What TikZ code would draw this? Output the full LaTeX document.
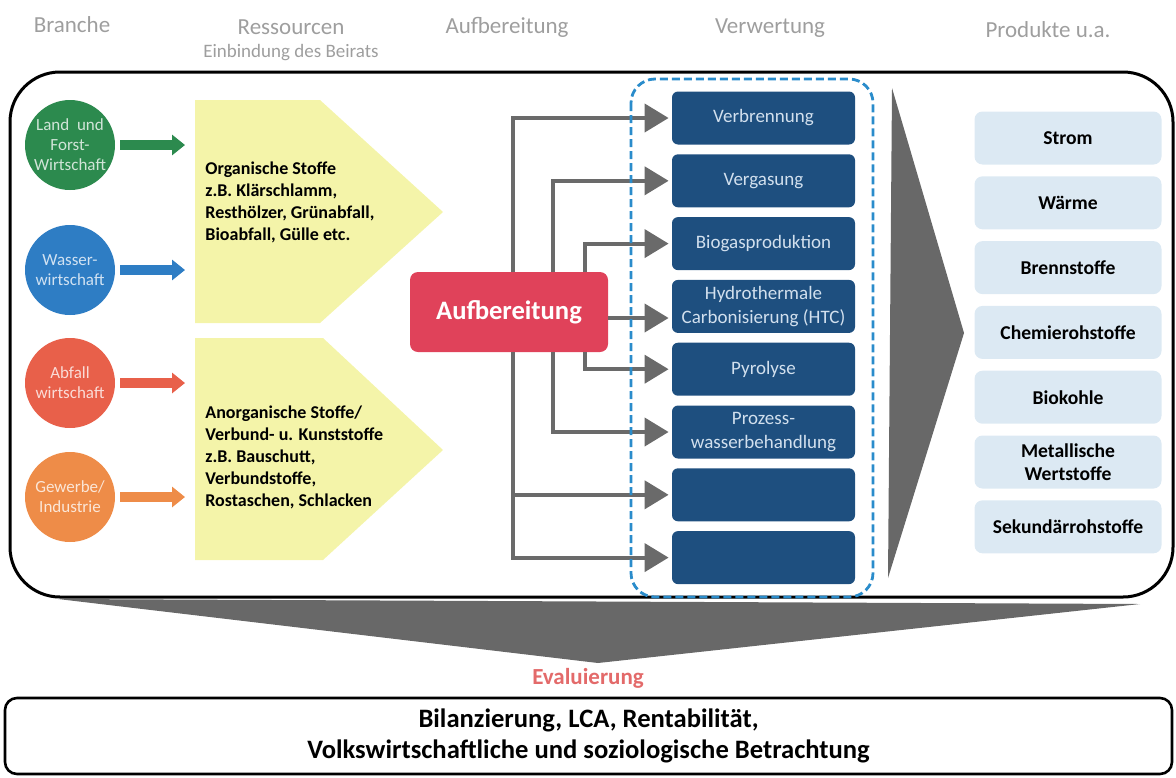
\documentclass[tikz,border=0pt]{standalone}
\usepackage{fontspec}
\setmainfont{Carlito}
\usetikzlibrary{arrows.meta,positioning}

\definecolor{kopfgrau}{HTML}{9E9E9E}
\definecolor{gruen}{HTML}{2C8A4E}
\definecolor{blau}{HTML}{2E7DC4}
\definecolor{rot}{HTML}{E8604A}
\definecolor{orange}{HTML}{EE8C48}
\definecolor{stoffgelb}{HTML}{F4F4A9}
\definecolor{aufrot}{HTML}{E0425A}
\definecolor{navy}{HTML}{1E4F7F}
\definecolor{navytext}{HTML}{D2E0EE}
\definecolor{hellblau}{HTML}{DCE9F3}
\definecolor{flussgrau}{HTML}{6A6A6A}
\definecolor{keilgrau}{HTML}{686868}
\definecolor{verwblau}{HTML}{2A8CCB}
\definecolor{evalrot}{HTML}{E36A6A}

\tikzset{
  kopf/.style={text=kopfgrau, font=\fontsize{11.5}{13}\selectfont},
  rahmen/.style={draw, line width=1.5pt, rounded corners=25pt},
  branche/.style={circle, fill=#1, minimum size=45pt, inner sep=0pt, align=center,
    text=white!78!#1, font=\fontsize{8.5}{10}\selectfont},
  zulauf/.style={draw=#1, line width=5pt, -{Triangle[length=6.5pt,width=10pt]}},
  stoffe/.style={fill=stoffgelb},
  stofftext/.style={anchor=west, align=left, inner sep=0pt, font=\bfseries\fontsize{9}{11}\selectfont},
  aufbox/.style={fill=aufrot, rounded corners=4pt, minimum width=99pt, minimum height=40pt,
    text=white, font=\bfseries\fontsize{13.3}{15}\selectfont},
  verfahren/.style={fill=navy, rounded corners=3pt, minimum width=91.5pt, minimum height=26.5pt,
    inner sep=1pt, align=center, text=navytext, font=\fontsize{9.5}{12}\selectfont},
  verwrahmen/.style={draw=verwblau, line width=1.4pt, dash pattern=on 4pt off 2pt, rounded corners=12pt},
  fluss/.style={draw=flussgrau, line width=2pt, -{Triangle[length=12pt,width=14pt]}, shorten >=1.5pt},
  keil/.style={fill=keilgrau},
  produkt/.style={fill=hellblau, rounded corners=4pt, minimum width=93.5pt, minimum height=26.5pt,
    inner sep=1pt, align=center, font=\bfseries\fontsize{9.8}{11.5}\selectfont},
  evaltext/.style={text=evalrot, font=\bfseries\fontsize{11.5}{13}\selectfont},
  bilanzbox/.style={draw, line width=1.3pt, rounded corners=6pt, minimum width=583.5pt,
    minimum height=38pt, align=center, font=\bfseries\fontsize{13.3}{15.5}\selectfont}
}

\begin{document}
\begin{tikzpicture}[x=0.5pt,y=-0.5pt]
  \useasboundingbox (0,0) rectangle (1176,777);

  \node (hbranche) [kopf] at (72,25)   {Branche};
  \node (hress)    [kopf] at (291,27)  {Ressourcen};
  \node (hbeirat)  [kopf, font=\fontsize{9.5}{11}\selectfont] at (291,53) {Einbindung des Beirats};
  \node (haufb)    [kopf] at (507,27)  {Aufbereitung};
  \node (hverw)    [kopf] at (770,28)  {Verwertung};
  \node (hprod)    [kopf] at (1048,30) {Produkte u.a.};

  \draw [rahmen] (10,72) rectangle (1173,597);

  \fill [stoffe] (195,100) -- (320,100) -- (443,212) -- (320,323) -- (195,323) -- cycle;
  \fill [stoffe] (195,338) -- (323,338) -- (443,450) -- (323,560) -- (195,560) -- cycle;
  \coordinate (orgrand)   at (185,212);
  \coordinate (anorgrand) at (185,450);

  \node (org)   [stofftext] at (205,202) {Organische Stoffe\\z.B. Klärschlamm,\\Resthölzer, Grünabfall,\\Bioabfall, Gülle etc.};
  \node (anorg) [stofftext] at (205,457) {Anorganische Stoffe/\\Verbund- u. Kunststoffe\\z.B. Bauschutt,\\Verbundstoffe,\\Rostaschen, Schlacken};

  \node (lufw)    [branche=gruen]  at (70,145) {Land\ \ und\\Forst-\\Wirtschaft};
  \node (wasser)  [branche=blau]   at (70,270) {Wasser-\\wirtschaft};
  \node (abfall)  [branche=rot]    at (70,383) {Abfall\\wirtschaft};
  \node (gewerbe) [branche=orange] at (70,497) {Gewerbe/\\Industrie};

  \draw [zulauf=gruen]  ([xshift=2.5pt]lufw.east)    -- (lufw -| orgrand);
  \draw [zulauf=blau]   ([xshift=2.5pt]wasser.east)  -- (wasser -| orgrand);
  \draw [zulauf=rot]    ([xshift=2.5pt]abfall.east)  -- (abfall -| anorgrand);
  \draw [zulauf=orange] ([xshift=2.5pt]gewerbe.east) -- (gewerbe -| anorgrand);

  \node (verbr)  [verfahren] at (763.5,118) {Verbrennung};
  \node (verg)   [verfahren, below=4.5pt of verbr]  {Vergasung};
  \node (biogas) [verfahren, below=4.5pt of verg]   {Biogasproduktion};
  \node (htc)    [verfahren, below=4.5pt of biogas] {Hydrothermale\\Carbonisierung (HTC)};
  \node (pyro)   [verfahren, below=4.5pt of htc]    {Pyrolyse};
  \node (proz)   [verfahren, below=4.5pt of pyro]   {Prozess-\\wasserbehandlung};
  \node (leer1)  [verfahren, below=4.5pt of proz]   {};
  \node (leer2)  [verfahren, below=4.5pt of leer1]  {};

  \node (aufb) [aufbox] at (509,312) {Aufbereitung};

  \draw [fluss] ([xshift=2pt]aufb.north)  |- (verbr);
  \draw [fluss] ([xshift=22pt]aufb.north) |- (verg);
  \draw [fluss] ([xshift=38pt]aufb.north) |- (biogas);
  \draw [fluss] ([yshift=-3pt]aufb.east)  -- ([yshift=-3pt]aufb.east -| htc.west);
  \draw [fluss] ([xshift=38pt]aufb.south) |- (pyro);
  \draw [fluss] ([xshift=22pt]aufb.south) |- (proz);
  \draw [fluss] ([xshift=2pt]aufb.south)  |- (leer1);
  \draw [fluss] ([xshift=2pt]aufb.south)  |- (leer2);

  \draw [verwrahmen] (631,79) rectangle (873,597);

  \fill [keil] (892,88) -- (964,333) -- (888,578) -- cycle;

  \node (strom)   [produkt] at (1068,138) {Strom};
  \node (waerme)  [produkt, below=5.5pt of strom]   {Wärme};
  \node (brenn)   [produkt, below=5.5pt of waerme]  {Brennstoffe};
  \node (chemie)  [produkt, below=5.5pt of brenn]   {Chemierohstoffe};
  \node (biokohle)[produkt, below=5.5pt of chemie]  {Biokohle};
  \node (metall)  [produkt, below=5.5pt of biokohle]{Metallische\\Wertstoffe};
  \node (sekund)  [produkt, below=5.5pt of metall]  {Sekundärrohstoffe};

  \fill [keil] (58,599) -- (1140,604) -- (598,663) -- cycle;

  \node (eval)   [evaltext]  at (588,678)   {Evaluierung};
  \node (bilanz) [bilanzbox] at (588.5,736) {Bilanzierung, LCA, Rentabilität,\\Volkswirtschaftliche und soziologische Betrachtung};
\end{tikzpicture}
\end{document}
